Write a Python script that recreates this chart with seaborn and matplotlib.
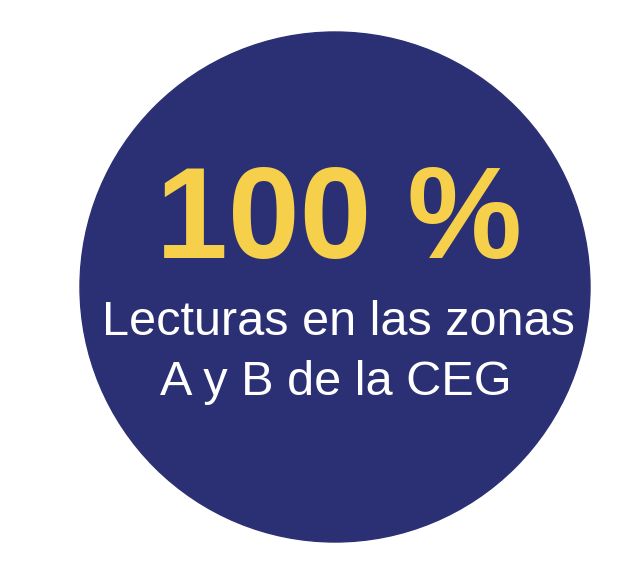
import matplotlib
matplotlib.use("Agg")
import matplotlib.pyplot as plt
from matplotlib.patches import Circle
import seaborn as sns

# datos
valor = 100
unidad = "%"
etiqueta = ["Lecturas en las zonas", "A y B de la CEG"]

azul = "#2b2f74"
amarillo = "#f6d04a"

sns.set_theme(style="white")
plt.rcParams['font.family'] = ['Liberation Sans', 'DejaVu Sans']

fig = plt.figure(figsize=(6.42, 5.84), dpi=100)
ax = fig.add_axes([0, 0, 1, 1])
ax.set_xlim(0, 642)
ax.set_ylim(584, 0)
ax.set_axis_off()

# círculo de fondo
ax.add_patch(Circle((335, 287), 255, color=azul, zorder=1))

# cifra principal
ax.text(339, 258, f"{valor} {unidad}", color=amarillo, fontsize=93,
        fontweight="bold", ha="center", va="baseline", zorder=2)

# texto descriptivo
ax.text(338, 335, etiqueta[0], color="white", fontsize=35,
        ha="center", va="baseline", zorder=2)
ax.text(336, 395, etiqueta[1], color="white", fontsize=35,
        ha="center", va="baseline", zorder=2)

fig.savefig("out.png", dpi=100, facecolor="white")
